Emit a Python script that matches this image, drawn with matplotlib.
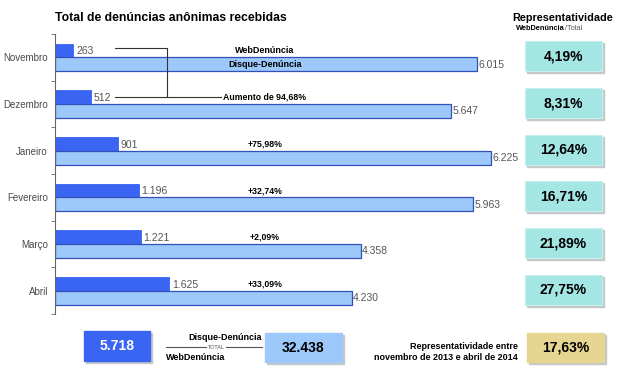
import matplotlib
matplotlib.use("Agg")
import matplotlib.pyplot as plt
from matplotlib.patches import Rectangle

plt.rcParams['font.family'] = ['Liberation Sans', 'DejaVu Sans']

# data
meses = ['Novembro', 'Dezembro', 'Janeiro', 'Fevereiro', 'Março', 'Abril']
web = [263, 512, 901, 1196, 1221, 1625]
disque = [6015, 5647, 6225, 5963, 4358, 4230]
crescimento = ['Aumento de 94,68%', '+75,98%', '+32,74%', '+2,09%', '+33,09%']
represent = ['4,19%', '8,31%', '12,64%', '16,71%', '21,89%', '27,75%']
total_web = '5.718'
total_disque = '32.438'
represent_total = '17,63%'

DARK = '#3a64f2'
LIGHT = '#9cc8fa'
EDGE = '#3350b8'
CYAN = '#a4e6e4'
KHAKI = '#e6d692'
SHADOW = '#c4c8c8'
GRAY = '#555555'

W, H = 620, 376
fig = plt.figure(figsize=(W / 100, H / 100), dpi=100)


def px_axes(x0, y0, x1, y1):
    return fig.add_axes([x0 / W, 1 - y1 / H, (x1 - x0) / W, (y1 - y0) / H])


def fmt(v):
    return f'{v:,}'.replace(',', '.')


# main bar chart
ax = px_axes(55, 34, 510, 314)
n = len(meses)
pos = list(range(n))
ax.barh([p - 0.145 for p in pos], web, height=0.29, color=DARK, edgecolor=DARK, linewidth=0.6)
ax.barh([p + 0.15 for p in pos], disque, height=0.3, color=LIGHT, edgecolor=EDGE, linewidth=0.9)
ax.set_xlim(0, 6490)
ax.set_ylim(n - 0.5, -0.5)

for p, w, d in zip(pos, web, disque):
    ax.text(w + 40, p - 0.13, fmt(w), fontsize=7.5, color=GRAY, va='center', ha='left')
    ax.text(d + 20, p + 0.16, fmt(d), fontsize=7.5, color=GRAY, va='center', ha='left')

for sp in ['top', 'right', 'bottom']:
    ax.spines[sp].set_visible(False)
ax.spines['left'].set_color('#666666')
ax.spines['left'].set_linewidth(0.8)
ax.set_xticks([])
ax.set_yticks(pos)
ax.set_yticklabels(meses, fontsize=7, color='#4a4a4a')
ax.tick_params(axis='y', which='major', length=0, pad=5)
ax.set_yticks([p - 0.5 for p in range(n + 1)], minor=True)
ax.tick_params(axis='y', which='minor', length=3, color='#666666', direction='out')

xc = (265 - 55) / 455 * 6490
ax.text(xc, -0.145, 'WebDenúncia', fontsize=6.5, fontweight='bold', ha='center', va='center')
ax.text(xc, 0.15, 'Disque-Denúncia', fontsize=6.5, fontweight='bold', ha='center', va='center')

# bracket between Novembro and Dezembro
xa = (115 - 55) / 455 * 6490
xb = (167 - 55) / 455 * 6490
xe = (221 - 55) / 455 * 6490
ax.plot([xa, xb, xb], [-0.19, -0.19, 0.86], color='#333333', lw=0.8)
ax.plot([xa, xe], [0.86, 0.86], color='#333333', lw=0.8)
ax.text(xe + 30, 0.86, crescimento[0], fontsize=6.3, fontweight='bold', ha='left', va='center')
for p, c in zip(pos[2:], crescimento[1:]):
    ax.text(xc, p - 0.145, c, fontsize=6.3, fontweight='bold', ha='center', va='center')

fig.text(55 / W, 1 - 18 / H, 'Total de denúncias anônimas recebidas', fontsize=8.8,
         fontweight='bold', ha='left', va='center')

# right column of percentage boxes
rx = px_axes(522, 34, 608, 314)
rx.set_xlim(0, 86)
rx.set_ylim(n - 0.5, -0.5)
rx.axis('off')
for p, r in zip(pos, represent):
    rx.add_patch(Rectangle((5, p - 0.3), 77, 0.64, color=SHADOW, clip_on=False))
    rx.add_patch(Rectangle((3, p - 0.34), 77, 0.64, facecolor=CYAN, edgecolor='#c8f0ee',
                           lw=0.8, clip_on=False))
    rx.text(41.5, p - 0.02, r, fontsize=10, fontweight='bold', ha='center', va='center')

fig.text(563 / W, 1 - 18 / H, 'Representatividade', fontsize=7.8, fontweight='bold',
         ha='center', va='center')
fig.text(565 / W, 1 - 29 / H, 'WebDenúncia', fontsize=5.3, fontweight='bold',
         ha='right', va='center')
fig.text(565 / W, 1 - 29 / H, '/Total', fontsize=5.3, color=GRAY, ha='left', va='center')

# bottom summary row
bx = px_axes(0, 320, 620, 376)
bx.set_xlim(0, W)
bx.set_ylim(376, 320)
bx.axis('off')


def box(x0, y0, x1, y1, fc, txt, tc):
    bx.add_patch(Rectangle((x0 + 2, y0 + 2), x1 - x0, y1 - y0, color=SHADOW))
    bx.add_patch(Rectangle((x0, y0), x1 - x0, y1 - y0, color=fc))
    bx.text((x0 + x1) / 2, (y0 + y1) / 2, txt, fontsize=10, fontweight='bold', color=tc,
            ha='center', va='center')


box(84, 331, 150, 361, DARK, total_web, 'white')
box(265, 333, 342, 362, LIGHT, total_disque, 'black')
box(527, 333, 604, 362, KHAKI, represent_total, 'black')

bx.plot([166, 206], [347, 347], color='#555555', lw=0.8)
bx.plot([226, 262], [347, 347], color='#555555', lw=0.8)
bx.text(216, 347, 'TOTAL', fontsize=4, color=GRAY, ha='center', va='center')
bx.text(262, 337, 'Disque-Denúncia', fontsize=6.5, fontweight='bold', ha='right', va='center')
bx.text(166, 357, 'WebDenúncia', fontsize=6.5, fontweight='bold', ha='left', va='center')
bx.text(518, 346, 'Representatividade entre', fontsize=6.5, fontweight='bold',
        ha='right', va='center')
bx.text(518, 357, 'novembro de 2013 e abril de 2014', fontsize=6.5, fontweight='bold',
        ha='right', va='center')

fig.savefig('out.png', dpi=100, facecolor='white')
